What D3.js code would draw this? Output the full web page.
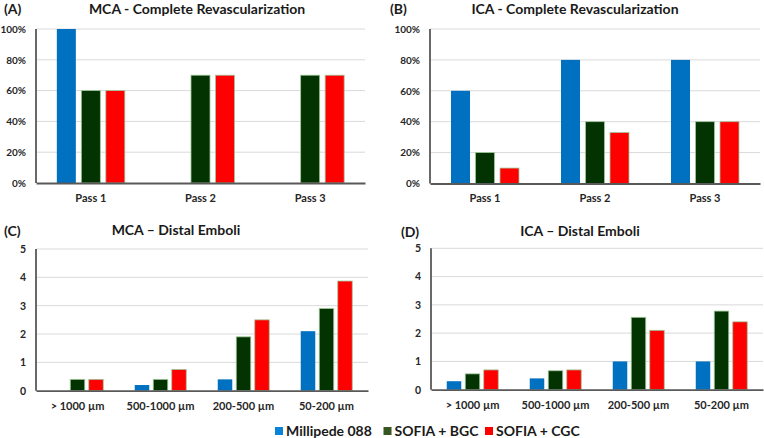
<!DOCTYPE html>
<html>
<head>
<meta charset="utf-8">
<script src="https://cdn.jsdelivr.net/npm/d3@7"></script>
<style>
  html, body { margin: 0; padding: 0; background: #fff; }
  svg { display: block; font-family: Lato, "Open Sans", sans-serif; }
</style>
</head>
<body>
<svg id="chart" width="764" height="438"></svg>
<script>
// ---- data ----
const seriesNames = ["Millipede 088", "SOFIA + BGC", "SOFIA + CGC"];
const seriesColors = ["#0070C0", "#033300", "#FF0000"];
const legendColors = ["#0a84d8", "#375623", "#FF0000"];
const passCats = ["Pass 1", "Pass 2", "Pass 3"];
const sizeCats = ["> 1000 µm", "500-1000 µm", "200-500 µm", "50-200 µm"];
const pctTicks = [0, 20, 40, 60, 80, 100];
const emboliTicks = [0, 1, 2, 3, 4, 5];

// (A) MCA - Complete Revascularization (%)
const mcaRevascMillipede = [100, 0, 0];
const mcaRevascBGC = [60, 70, 70];
const mcaRevascCGC = [60, 70, 70];
// (B) ICA - Complete Revascularization (%)
const icaRevascMillipede = [60, 80, 80];
const icaRevascBGC = [20, 40, 40];
const icaRevascCGC = [10, 33, 40];
// (C) MCA - Distal Emboli
const mcaEmboliMillipede = [0, 0.2, 0.4, 2.1];
const mcaEmboliBGC = [0.4, 0.4, 1.9, 2.9];
const mcaEmboliCGC = [0.4, 0.75, 2.5, 3.87];
// (D) ICA - Distal Emboli
const icaEmboliMillipede = [0.3, 0.4, 1.0, 1.0];
const icaEmboliBGC = [0.56, 0.67, 2.56, 2.78];
const icaEmboliCGC = [0.7, 0.7, 2.1, 2.4];

const svg = d3.select("#chart");

function panel(cfg) {
  const g = svg.append("g");
  const x = d3.scaleBand().domain(cfg.cats).range([cfg.x0, cfg.x1]).paddingInner(0).paddingOuter(0);
  const inner = d3.scaleBand().domain(seriesNames)
    .range([(x.step() - cfg.groupW) / 2, (x.step() + cfg.groupW) / 2])
    .paddingInner(cfg.innerPad).paddingOuter(0);
  const y = d3.scaleLinear().domain([0, d3.max(cfg.ticks)]).range([cfg.y0, cfg.y1]);

  // gridlines
  g.append("g").selectAll("line").data(cfg.ticks.slice(1)).join("line")
    .attr("x1", cfg.x0).attr("x2", cfg.x1)
    .attr("y1", d => y(d)).attr("y2", d => y(d))
    .attr("stroke", "#d9d9d9").attr("stroke-width", 1);

  // y tick labels via axis
  const yAxis = d3.axisLeft(y).tickValues(cfg.ticks).tickSize(0).tickPadding(0)
    .tickFormat(cfg.fmt);
  const ya = g.append("g").attr("transform", `translate(${cfg.x0 - 10},0)`).call(yAxis);
  ya.select(".domain").remove();
  ya.selectAll("text").attr("font-size", cfg.tickFont).attr("font-weight", 700)
    .attr("fill", "#262626").attr("font-family", "Lato, sans-serif");

  // bars
  const rows = [];
  cfg.cats.forEach((c, i) => {
    cfg.values.forEach((arr, s) => {
      if (arr[i] > 0) rows.push({ cat: c, s: seriesNames[s], si: s, v: arr[i] });
    });
  });
  g.append("g").selectAll("rect").data(rows).join("rect")
    .attr("x", d => x(d.cat) + inner(d.s))
    .attr("width", inner.bandwidth())
    .attr("y", d => y(d.v))
    .attr("height", d => y(0) - y(d.v))
    .attr("fill", d => seriesColors[d.si])
    .attr("stroke", d => d.si === 0 ? "none" : "#9fc79a")
    .attr("stroke-width", 0.8);

  // axis lines
  g.append("line").attr("x1", cfg.x0).attr("x2", cfg.x0)
    .attr("y1", y(d3.max(cfg.ticks))).attr("y2", cfg.y0)
    .attr("stroke", "#595959").attr("stroke-width", 1.8);
  const xAxis = d3.axisBottom(x).tickSize(0).tickPadding(0);
  const xa = g.append("g").attr("transform", `translate(0,${cfg.y0})`).call(xAxis);
  xa.select(".domain").attr("stroke", "#595959").attr("stroke-width", 1.8);
  xa.selectAll("text").attr("font-size", 11).attr("font-weight", 700)
    .attr("fill", "#262626").attr("font-family", "Lato, sans-serif")
    .attr("dy", null).attr("y", cfg.labelY - cfg.y0);

  // titles
  g.append("text").attr("x", cfg.tagX).attr("y", cfg.tagY).text(cfg.tag)
    .attr("font-size", 14).attr("font-weight", 700).attr("fill", "#1a1a1a");
  g.append("text").attr("x", cfg.titleX).attr("y", cfg.titleY).text(cfg.title)
    .attr("text-anchor", "middle")
    .attr("font-size", 14).attr("font-weight", 700).attr("fill", "#1a1a1a");
}

const pctFmt = d => d + "%";
const numFmt = d => String(d);

panel({ cats: passCats, values: [mcaRevascMillipede, mcaRevascBGC, mcaRevascCGC],
  x0: 36, x1: 365, y0: 183, y1: 29, ticks: pctTicks, fmt: pctFmt, tickFont: 10,
  groupW: 68, innerPad: 0.224, labelY: 202,
  tag: "(A)", tagX: 4, tagY: 13.5, title: "MCA - Complete Revascularization", titleX: 197, titleY: 13.5 });

panel({ cats: passCats, values: [icaRevascMillipede, icaRevascBGC, icaRevascCGC],
  x0: 430, x1: 760, y0: 183.5, y1: 29, ticks: pctTicks, fmt: pctFmt, tickFont: 10,
  groupW: 68, innerPad: 0.224, labelY: 202,
  tag: "(B)", tagX: 390, tagY: 13.5, title: "ICA - Complete Revascularization", titleX: 575, titleY: 13.5 });

panel({ cats: sizeCats, values: [mcaEmboliMillipede, mcaEmboliBGC, mcaEmboliCGC],
  x0: 36, x1: 368, y0: 390.7, y1: 249, ticks: emboliTicks, fmt: numFmt, tickFont: 10.5,
  groupW: 51.5, innerPad: 0.216, labelY: 410,
  tag: "(C)", tagX: 4, tagY: 236, title: "MCA – Distal Emboli", titleX: 176, titleY: 235 });

panel({ cats: sizeCats, values: [icaEmboliMillipede, icaEmboliBGC, icaEmboliCGC],
  x0: 431, x1: 763, y0: 389.7, y1: 248.3, ticks: emboliTicks, fmt: numFmt, tickFont: 10.5,
  groupW: 51.5, innerPad: 0.216, labelY: 409,
  tag: "(D)", tagX: 401, tagY: 237, title: "ICA – Distal Emboli", titleX: 580, titleY: 236 });

// legend
const legendX = [275, 383.5, 485];
const lg = svg.append("g").selectAll("g").data(seriesNames).join("g")
  .attr("transform", (d, i) => `translate(${legendX[i]},427)`);
lg.append("rect").attr("width", 8).attr("height", 8)
  .attr("fill", (d, i) => legendColors[i]);
lg.append("text").attr("x", 11).attr("y", 8.5).text(d => d)
  .attr("font-size", 14).attr("font-weight", 700).attr("fill", "#1a1a1a");
</script>
</body>
</html>
